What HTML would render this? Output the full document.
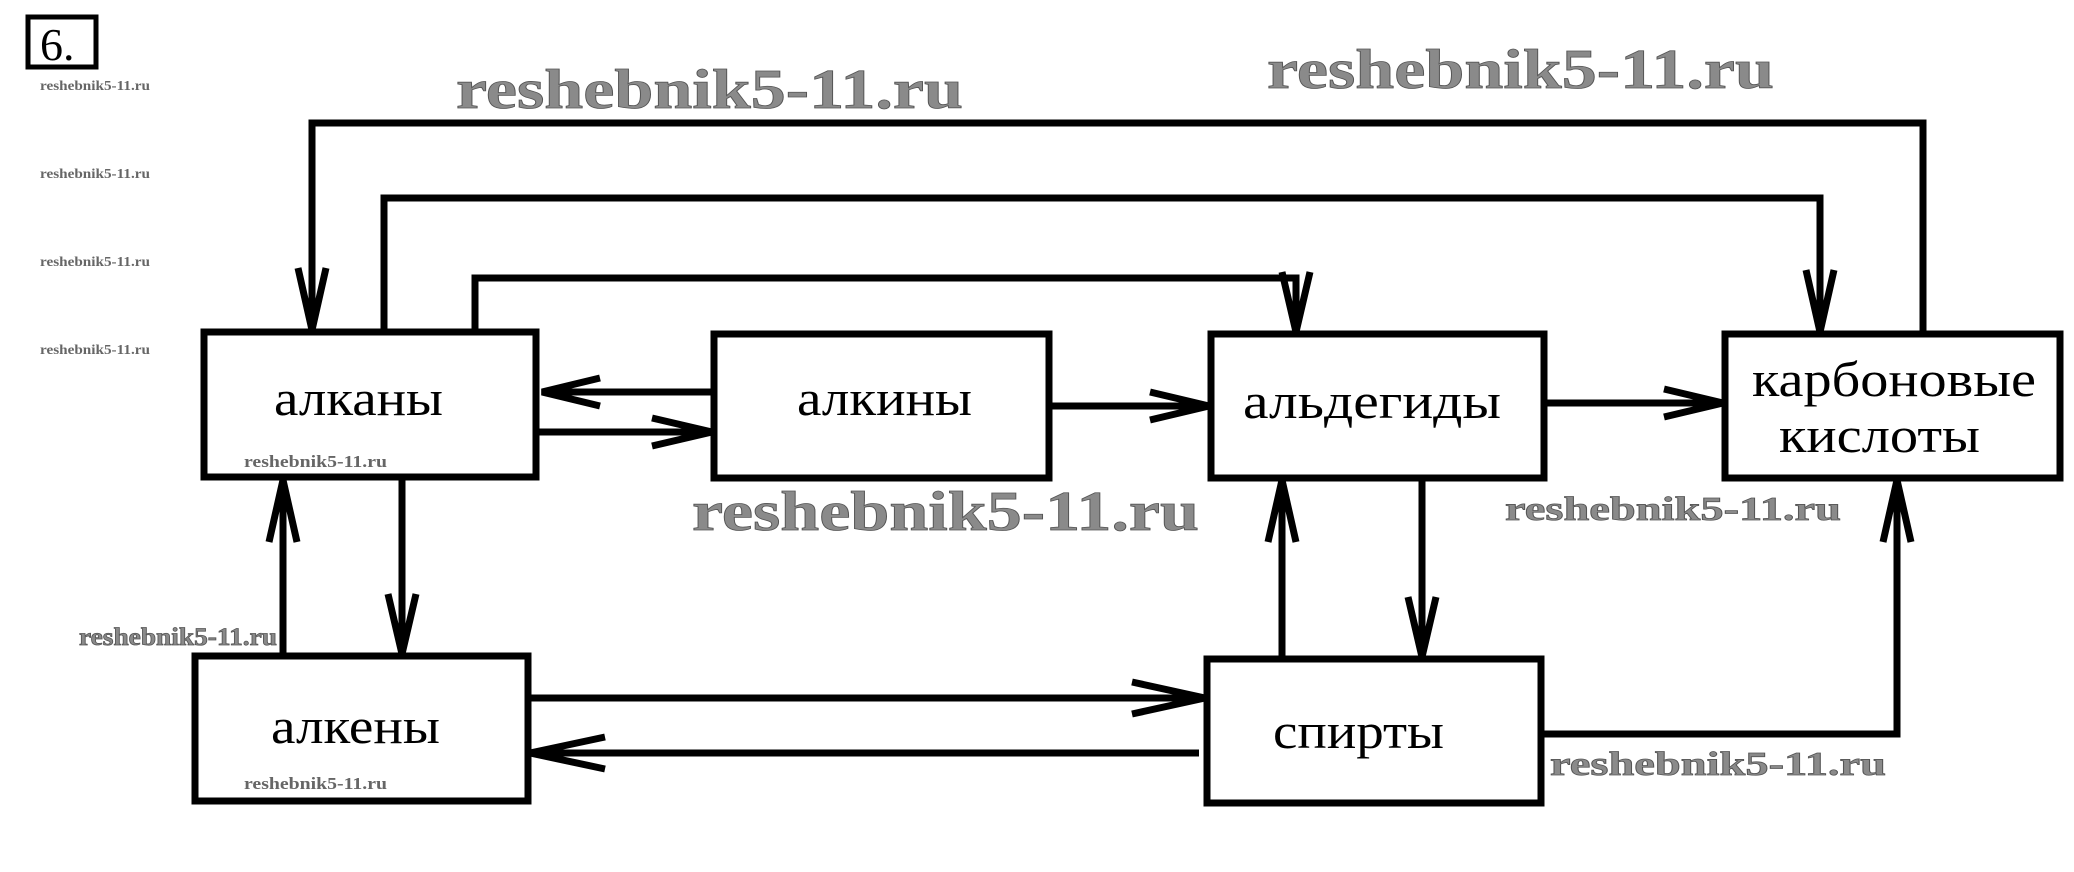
<!DOCTYPE html>
<html><head><meta charset="utf-8"><style>
html,body{margin:0;padding:0;background:#fff;}
svg{display:block;}
.wm{font-family:"Liberation Serif",serif;font-weight:bold;fill:#8a8a8a;stroke:#555;stroke-width:0.8;}
.sm{font-family:"Liberation Serif",serif;font-weight:bold;fill:#666;}
.lb{font-family:"Liberation Serif","Noto Serif CJK SC",serif;font-size:50px;fill:#000;}
</style></head><body>
<svg width="2074" height="872" viewBox="0 0 2074 872" xmlns="http://www.w3.org/2000/svg">
<rect x="0" y="0" width="2074" height="872" fill="#fff"/>
<rect x="28" y="17" width="68" height="50" fill="none" stroke="#000" stroke-width="5"/>
<text x="40" y="60" font-family="Liberation Serif,serif" font-size="46">6.</text>

<text class="wm" x="456" y="108" font-size="56" textLength="507" lengthAdjust="spacingAndGlyphs">reshebnik5-11.ru</text>
<text class="wm" x="1267" y="88" font-size="56" textLength="507" lengthAdjust="spacingAndGlyphs">reshebnik5-11.ru</text>
<text class="wm" x="692" y="530" font-size="56" textLength="507" lengthAdjust="spacingAndGlyphs">reshebnik5-11.ru</text>
<text class="wm" x="1505" y="520" font-size="34" textLength="336" lengthAdjust="spacingAndGlyphs">reshebnik5-11.ru</text>
<text class="wm" x="1550" y="775" font-size="34" textLength="336" lengthAdjust="spacingAndGlyphs">reshebnik5-11.ru</text>
<text class="wm" x="79" y="645" font-size="25" textLength="198" lengthAdjust="spacingAndGlyphs">reshebnik5-11.ru</text>
<text class="sm" x="40" y="90" font-size="14" textLength="110" lengthAdjust="spacingAndGlyphs">reshebnik5-11.ru</text>
<text class="sm" x="40" y="178" font-size="14" textLength="110" lengthAdjust="spacingAndGlyphs">reshebnik5-11.ru</text>
<text class="sm" x="40" y="266" font-size="14" textLength="110" lengthAdjust="spacingAndGlyphs">reshebnik5-11.ru</text>
<text class="sm" x="40" y="354" font-size="14" textLength="110" lengthAdjust="spacingAndGlyphs">reshebnik5-11.ru</text>
<text class="sm" x="244" y="467" font-size="17" textLength="143" lengthAdjust="spacingAndGlyphs">reshebnik5-11.ru</text>
<text class="sm" x="244" y="789" font-size="17" textLength="143" lengthAdjust="spacingAndGlyphs">reshebnik5-11.ru</text>

<g fill="none" stroke="#000" stroke-width="7" stroke-linejoin="miter">
<rect x="204" y="332" width="332" height="145"/>
<rect x="714" y="334" width="335" height="144"/>
<rect x="1211" y="334" width="333" height="144"/>
<rect x="1725" y="334" width="335" height="144"/>
<rect x="195" y="656" width="333" height="145"/>
<rect x="1207" y="659" width="334" height="144"/>

<polyline points="312,330 312,123 1923,123 1923,332"/>
<polyline points="384,330 384,198 1820,198 1820,332"/>
<polyline points="475,330 475,278 1296,278 1296,332"/>
<line x1="714" y1="392" x2="542" y2="392"/>
<line x1="536" y1="432" x2="712" y2="432"/>
<line x1="1049" y1="406" x2="1209" y2="406"/>
<line x1="1544" y1="403" x2="1723" y2="403"/>
<line x1="402" y1="478" x2="402" y2="654"/>
<line x1="283" y1="654" x2="283" y2="480"/>
<line x1="528" y1="698" x2="1205" y2="698"/>
<line x1="1199" y1="753" x2="530" y2="753"/>
<line x1="1282" y1="657" x2="1282" y2="480"/>
<line x1="1422" y1="478" x2="1422" y2="657"/>
<polyline points="1541,734 1897,734 1897,480"/>

<polyline points="298,268 312,330 326,268"/>
<polyline points="1806,270 1820,332 1834,270"/>
<polyline points="1282,272 1296,332 1310,272"/>
<polyline points="600,378 542,392 600,406"/>
<polyline points="652,418 712,432 652,446"/>
<polyline points="1150,392 1209,406 1150,420"/>
<polyline points="1664,389 1723,403 1664,417"/>
<polyline points="388,594 402,654 416,594"/>
<polyline points="269,542 283,480 297,542"/>
<polyline points="1132,682 1205,698 1132,714"/>
<polyline points="605,737 530,753 605,769"/>
<polyline points="1268,542 1282,480 1296,542"/>
<polyline points="1408,597 1422,657 1436,597"/>
<polyline points="1883,542 1897,480 1911,542"/>
</g>

<text class="lb" x="274" y="415" textLength="169" lengthAdjust="spacingAndGlyphs">алканы</text>
<text class="lb" x="797" y="415" textLength="175" lengthAdjust="spacingAndGlyphs">алкины</text>
<text class="lb" x="1243" y="418" textLength="258" lengthAdjust="spacingAndGlyphs">альдегиды</text>
<text class="lb" x="1752" y="396" textLength="284" lengthAdjust="spacingAndGlyphs">карбоновые</text>
<text class="lb" x="1779" y="452" textLength="201" lengthAdjust="spacingAndGlyphs">кислоты</text>
<text class="lb" x="271" y="743" textLength="169" lengthAdjust="spacingAndGlyphs">алкены</text>
<text class="lb" x="1273" y="748" textLength="171" lengthAdjust="spacingAndGlyphs">спирты</text>
</svg>
</body></html>
